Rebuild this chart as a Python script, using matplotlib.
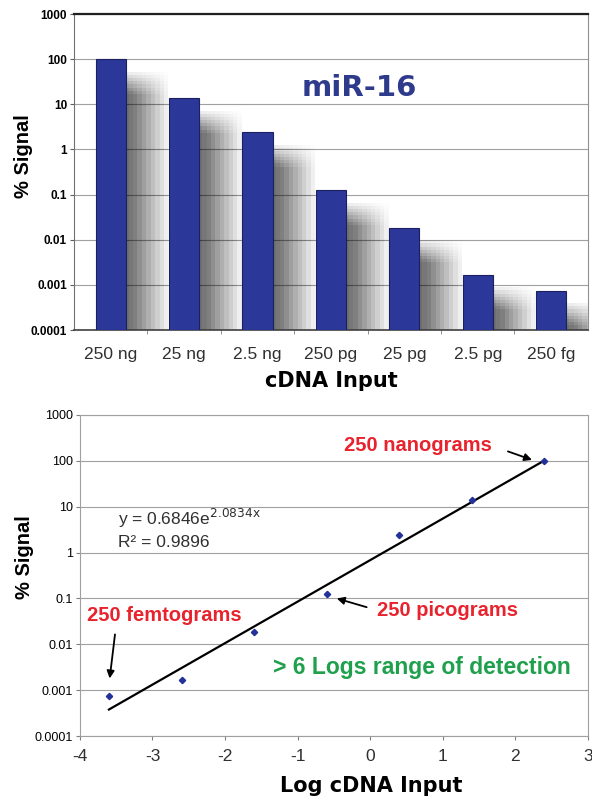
import numpy as np
import matplotlib.pyplot as plt

# data
categories = ['250 ng', '25 ng', '2.5 ng', '250 pg', '25 pg', '2.5 pg', '250 fg']
signal = [100, 13.8, 2.45, 0.125, 0.0185, 0.00168, 0.00075]
log_input = [2.4, 1.4, 0.4, -0.6, -1.6, -2.6, -3.6]
y_ticks = [0.0001, 0.001, 0.01, 0.1, 1, 10, 100, 1000]
y_tick_labels = ['0.0001', '0.001', '0.01', '0.1', '1', '10', '100', '1000']
fit_a = 0.6846
fit_b = 2.0834

bar_color = '#2b3799'
grid_color = '#a0a0a0'
red = '#e8232d'
green = '#1fa04c'

plt.rcParams['font.family'] = ['Liberation Sans', 'DejaVu Sans']
plt.rcParams['axes.unicode_minus'] = False

fig = plt.figure(figsize=(5.92, 8.01), dpi=100)

# ---- top: bar chart ----
ax1 = fig.add_axes([0.125, 0.588, 0.868, 0.3945])
ax1.set_yscale('log')
ax1.set_ylim(0.0001, 1000)
ax1.set_xlim(-0.5, 6.5)
x = np.arange(len(categories))
bw = 0.41

# soft shadow to the right of each bar
for j in range(8):
    tops = [v * 10 ** (-0.28 - j * 0.07) for v in signal]
    for i in range(10):
        w = 0.04 + i * 0.06
        ax1.bar(x + bw / 2, [t - 0.0001 for t in tops], bottom=0.0001, width=w,
                align='edge', color='black', alpha=0.0075, linewidth=0, zorder=2)

ax1.bar(x, [v - 0.0001 for v in signal], bottom=0.0001, width=bw,
        color=bar_color, edgecolor='#1a2060', linewidth=0.8, zorder=3)

ax1.set_yticks(y_ticks)
ax1.set_yticklabels(y_tick_labels)
ax1.minorticks_off()
ax1.yaxis.grid(True, color=grid_color, linewidth=0.8, zorder=0)
ax1.set_axisbelow(True)
ax1.tick_params(axis='y', length=3, labelsize=8.5, pad=2, color='#606060')
for lab in ax1.get_yticklabels():
    lab.set_fontweight('bold')
ax1.set_xticks(x)
ax1.set_xticklabels(categories, fontsize=12.5, color='#303030')
ax1.set_xticks(np.arange(0.5, 6.5, 1), minor=True)
ax1.tick_params(axis='x', which='major', length=0, pad=12)
ax1.tick_params(axis='x', which='minor', length=3, color='#808080')
ax1.set_xlabel('cDNA Input', fontsize=15, fontweight='bold', family='DejaVu Sans',
               labelpad=7)
ax1.set_ylabel('% Signal', fontsize=14.5, fontweight='bold')
ax1.yaxis.set_label_coords(-0.08, 0.55)
ax1.spines['top'].set_color('#202020')
ax1.spines['top'].set_linewidth(1.6)
ax1.spines['right'].set_color('#909090')
ax1.spines['left'].set_color('#707070')
ax1.spines['bottom'].set_color('#404040')
ax1.spines['bottom'].set_linewidth(1.2)
ax1.text(0.555, 0.765, 'miR-16', transform=ax1.transAxes, fontsize=21,
         fontweight='bold', color='#2e3a8c', family='DejaVu Sans',
         ha='center', va='center')

# ---- bottom: log-linear fit ----
ax2 = fig.add_axes([0.135, 0.0811, 0.858, 0.4008])
ax2.set_yscale('log')
ax2.set_ylim(0.0001, 1000)
ax2.set_xlim(-4, 3)
ax2.plot(log_input, signal, linestyle='none', marker='D', markersize=3.2,
         color='#23319a', zorder=4)
fit_x = np.array([min(log_input), max(log_input)])
ax2.plot(fit_x, fit_a * np.exp(fit_b * fit_x), color='black', linewidth=1.6, zorder=3)

ax2.set_yticks(y_ticks)
ax2.set_yticklabels(y_tick_labels)
ax2.minorticks_off()
ax2.yaxis.grid(True, color=grid_color, linewidth=0.8)
ax2.set_axisbelow(True)
ax2.tick_params(axis='y', length=3, labelsize=9, pad=2, color='#808080')
ax2.set_xticks(range(-4, 4))
ax2.tick_params(axis='x', length=3, labelsize=12.5, pad=6, color='#808080',
                labelcolor='#303030')
for sp in ax2.spines.values():
    sp.set_color('#a0a0a0')
ax2.set_xlabel('Log cDNA Input', fontsize=15, fontweight='bold', family='DejaVu Sans')
ax2.xaxis.set_label_coords(0.573, -0.125)
ax2.set_ylabel('% Signal', fontsize=14.5, fontweight='bold')
ax2.yaxis.set_label_coords(-0.09, 0.557)

ax2.text(-3.47, 5.5, r'y = 0.6846e$^{\mathrm{2.0834x}}$', fontsize=12.5,
         color='#303030', va='center')
ax2.text(-3.47, 1.65, 'R² = 0.9896', fontsize=12.5, color='#303030', va='center')

arrow = dict(arrowstyle='-|>', color='black', lw=1.3, mutation_scale=11)
ax2.annotate('250 nanograms', xy=(2.23, 105), xytext=(1.68, 213),
             fontsize=14.5, fontweight='bold', color=red, ha='right', va='center',
             arrowprops=dict(arrow, relpos=(1, 0.5), shrinkA=10, shrinkB=0))
ax2.annotate('250 picograms', xy=(-0.46, 0.1), xytext=(0.1, 0.055),
             fontsize=14.5, fontweight='bold', color=red, ha='left', va='center',
             arrowprops=dict(arrow, relpos=(0, 0.5), shrinkA=6, shrinkB=0))
ax2.annotate('250 femtograms', xy=(-3.59, 0.0018), xytext=(-2.84, 0.043),
             fontsize=14.5, fontweight='bold', color=red, ha='center', va='center',
             arrowprops=dict(arrow, relpos=(0.19, 0), shrinkA=5, shrinkB=0))
ax2.text(-1.34, 0.0031, '> 6 Logs range of detection', fontsize=16.5,
         fontweight='bold', color=green, va='center')

fig.savefig('out.png', dpi=100)
